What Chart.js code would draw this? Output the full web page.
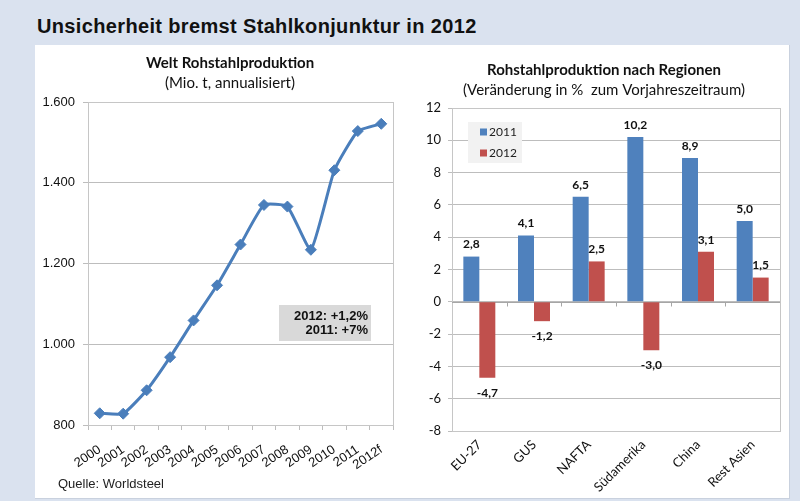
<!DOCTYPE html>
<html lang="de">
<head>
<meta charset="utf-8">
<title>Unsicherheit bremst Stahlkonjunktur in 2012</title>
<script src="https://cdn.jsdelivr.net/npm/chart.js@4.4.1/dist/chart.umd.min.js"></script>
<style>
  html, body { margin: 0; padding: 0; }
  body {
    width: 800px; height: 501px; position: relative; overflow: hidden;
    background: #dae2ef; font-family: "Liberation Sans", Arial, sans-serif;
  }
  #headline {
    position: absolute; left: 37px; top: 16px; white-space: nowrap;
    font-size: 20px; line-height: 20px; font-weight: bold; letter-spacing: 0.35px; color: #111;
  }
  #panel {
    position: absolute; left: 35px; top: 45px; width: 754px; height: 453px;
    background: #fff; border-right: 1px solid #c9d1de; border-bottom: 1px solid #c9d1de;
  }
  canvas { position: absolute; }
  #worldChart { left: 36px; top: 45px; }
  #regionChart { left: 410px; top: 45px; }
  #source { position: absolute; left: 58px; top: 477px; font-size: 13px; line-height: 13px; color: #222; }
</style>
</head>
<body>
<div id="headline">Unsicherheit bremst Stahlkonjunktur in 2012</div>
<div id="panel"></div>
<canvas id="worldChart" width="388" height="440"></canvas>
<canvas id="regionChart" width="388" height="455"></canvas>
<div id="source">Quelle: Worldsteel</div>

<script>
// Data
const years = ["2000", "2001", "2002", "2003", "2004", "2005", "2006", "2007", "2008", "2009", "2010", "2011", "2012f"];
const worldOutput = [829, 828, 886, 968, 1059, 1146, 1247, 1345, 1341, 1234, 1431, 1528, 1546];
const noteLines = ["2012: +1,2%", "2011: +7%"];

const regions = ["EU-27", "GUS", "NAFTA", "Südamerika", "China", "Rest Asien"];
const seriesNames = ["2011", "2012"];
const change2011 = [2.8, 4.1, 6.5, 10.2, 8.9, 5.0];
const change2012 = [-4.7, -1.2, 2.5, -3.0, 3.1, 1.5];

const BLUE = "#4f81bd";
const RED = "#c0504d";
const LINE_BLUE = "#4a7ebb";
const GRID = "#bdbdbd";
const FRAME = "#c6c6c6";

// German number formats
function thousands(v) {
  return String(v).replace(/\B(?=(\d{3})+(?!\d))/g, ".");
}
function decimalComma(v) {
  return v.toFixed(1).replace(".", ",");
}

// Empty axis on the right, only there to keep space so the titles sit where Excel put them
function spacerAxis(width) {
  return {
    type: "linear",
    position: "right",
    afterFit(scale) { scale.width = width; },
    grid: { display: false, drawTicks: false },
    border: { display: false },
    ticks: { display: false }
  };
}

// Thin box around the plot area (Excel style)
const plotFrame = {
  id: "plotFrame",
  beforeDatasetsDraw(chart) {
    const { ctx, chartArea: a } = chart;
    ctx.save();
    ctx.strokeStyle = FRAME;
    ctx.lineWidth = 1;
    ctx.strokeRect(Math.round(a.left) + 0.5, Math.round(a.top) + 0.5,
      Math.round(a.right - a.left), Math.round(a.bottom - a.top));
    ctx.restore();
  }
};

// Grey note box inside the left chart
const noteBox = {
  id: "noteBox",
  afterDraw(chart, args, opts) {
    const { ctx, chartArea: a } = chart;
    const x = a.left + opts.dx, y = a.top + opts.dy;
    ctx.save();
    ctx.fillStyle = "#d9d9d9";
    ctx.fillRect(x, y, opts.w, opts.h);
    ctx.fillStyle = "#111";
    ctx.font = "bold 13px 'Liberation Sans', Arial, sans-serif";
    ctx.textAlign = "right";
    ctx.textBaseline = "middle";
    opts.lines.forEach((line, i) => {
      ctx.fillText(line, x + opts.w - 3, y + 11 + i * 14);
    });
    ctx.restore();
  }
};

// Value labels above / below each bar
const barLabels = {
  id: "barLabels",
  afterDatasetsDraw(chart) {
    const { ctx } = chart;
    ctx.save();
    ctx.font = "bold 12px Lato, sans-serif";
    ctx.fillStyle = "#111";
    ctx.textAlign = "center";
    ctx.textBaseline = "middle";
    chart.data.datasets.forEach((ds, di) => {
      chart.getDatasetMeta(di).data.forEach((bar, i) => {
        const v = ds.data[i];
        const y = v >= 0 ? bar.y - 12 : bar.y + 15;
        ctx.fillText(decimalComma(v), bar.x, y);
      });
    });
    ctx.restore();
  }
};

// Legend drawn inside the plot area, top left
const insideLegend = {
  id: "insideLegend",
  afterDraw(chart, args, opts) {
    const { ctx, chartArea: a } = chart;
    const x = a.left + opts.dx, y = a.top + opts.dy;
    ctx.save();
    ctx.fillStyle = "#f2f2f2";
    ctx.fillRect(x, y, opts.w, opts.h);
    ctx.font = "12px Lato, sans-serif";
    ctx.textBaseline = "middle";
    chart.data.datasets.forEach((ds, i) => {
      const cy = y + 10 + i * 21;
      ctx.fillStyle = ds.backgroundColor;
      ctx.fillRect(x + 12, cy - 3.5, 7, 7);
      ctx.fillStyle = "#222";
      ctx.fillText(ds.label, x + 21, cy);
    });
    ctx.restore();
  }
};

// Horizontal axis line at zero with tick marks between categories
const zeroAxis = {
  id: "zeroAxis",
  beforeDatasetsDraw(chart) {
    const { ctx, chartArea: a, scales } = chart;
    const y0 = Math.round(scales.y.getPixelForValue(0)) + 0.5;
    const n = chart.data.labels.length;
    const step = (a.right - a.left) / n;
    ctx.save();
    ctx.strokeStyle = "#a6a6a6";
    ctx.lineWidth = 1;
    ctx.beginPath();
    ctx.moveTo(a.left, y0);
    ctx.lineTo(a.right, y0);
    for (let i = 1; i < n; i++) {
      const x = Math.round(a.left + i * step) + 0.5;
      ctx.moveTo(x, y0);
      ctx.lineTo(x, y0 + 4);
    }
    ctx.stroke();
    ctx.restore();
  }
};

const titleFont = { family: "Lato, sans-serif", size: 15, weight: "bold", lineHeight: 1.2 };
const subtitleFont = { family: "Lato, sans-serif", size: 15, weight: "normal", lineHeight: 1.2 };

// Left: world crude steel production
new Chart(document.getElementById("worldChart"), {
  type: "line",
  data: {
    labels: years,
    datasets: [{
      data: worldOutput,
      borderColor: LINE_BLUE,
      borderWidth: 3,
      tension: 0.15,
      pointStyle: "rectRot",
      pointRadius: 5.5,
      pointBackgroundColor: LINE_BLUE,
      pointBorderColor: LINE_BLUE,
      pointBorderWidth: 1
    }]
  },
  options: {
    responsive: false,
    animation: false,
    layout: { padding: 0 },
    plugins: {
      legend: { display: false },
      tooltip: { enabled: false },
      title: {
        display: true, text: "Welt Rohstahlproduktion", color: "#111",
        font: titleFont, padding: { top: 9, bottom: 0 }
      },
      subtitle: {
        display: true, text: "(Mio. t, annualisiert)", color: "#111",
        font: subtitleFont, padding: { top: 2, bottom: 10 }
      },
      noteBox: { dx: 191, dy: 203, w: 92, h: 36, lines: noteLines }
    },
    scales: {
      x: {
        offset: true,
        afterFit(scale) { scale.height = 60; },
        grid: { display: true, drawOnChartArea: false, offset: true, tickLength: 5, color: GRID },
        border: { color: "#b0b0b0" },
        ticks: {
          autoSkip: false, minRotation: 34, maxRotation: 34, padding: 12,
          color: "#111", font: { family: "'Liberation Sans', Arial, sans-serif", size: 13 }
        }
      },
      y: {
        min: 800, max: 1600,
        afterFit(scale) { scale.width = 52; },
        grid: { color: GRID, tickLength: 5 },
        border: { color: FRAME },
        ticks: {
          stepSize: 200, padding: 8, color: "#111",
          font: { family: "'Liberation Sans', Arial, sans-serif", size: 13 },
          callback: (v) => thousands(v)
        }
      },
      yRight: spacerAxis(31)
    }
  },
  plugins: [plotFrame, noteBox]
});

// Right: change by region
new Chart(document.getElementById("regionChart"), {
  type: "bar",
  data: {
    labels: regions,
    datasets: [
      { label: seriesNames[0], data: change2011, backgroundColor: BLUE },
      { label: seriesNames[1], data: change2012, backgroundColor: RED }
    ]
  },
  options: {
    responsive: false,
    animation: false,
    datasets: { bar: { categoryPercentage: 0.585, barPercentage: 1.0 } },
    layout: { padding: 0 },
    plugins: {
      legend: { display: false },
      tooltip: { enabled: false },
      title: {
        display: true, text: "Rohstahlproduktion nach Regionen", color: "#111",
        font: titleFont, padding: { top: 16, bottom: 0 }
      },
      subtitle: {
        display: true, text: "(Veränderung in %  zum Vorjahreszeitraum)", color: "#111",
        font: subtitleFont, padding: { top: 2, bottom: 9 }
      },
      insideLegend: { dx: 16, dy: 14, w: 54, h: 41 }
    },
    scales: {
      x: {
        afterFit(scale) { scale.height = 69; },
        grid: { display: false, drawTicks: false },
        border: { color: FRAME },
        ticks: {
          autoSkip: false, minRotation: 45, maxRotation: 45, padding: 6,
          color: "#111", font: { family: "Lato, sans-serif", size: 13 }
        }
      },
      y: {
        min: -8, max: 12,
        afterFit(scale) { scale.width = 42; },
        grid: { color: GRID, tickLength: 4 },
        border: { color: FRAME },
        ticks: {
          stepSize: 2, padding: 7, color: "#111",
          font: { family: "Lato, sans-serif", size: 13 }
        }
      },
      yRight: spacerAxis(18)
    }
  },
  plugins: [plotFrame, zeroAxis, barLabels, insideLegend]
});
</script>
</body>
</html>
